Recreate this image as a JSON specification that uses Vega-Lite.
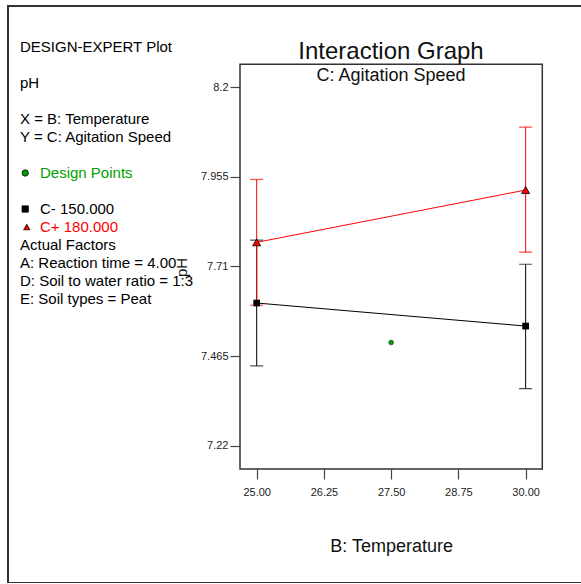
{
  "$schema": "https://vega.github.io/schema/vega-lite/v6.json",
  "width": 590,
  "height": 577,
  "autosize": "none",
  "padding": {"left": 8, "top": 6, "right": 0, "bottom": 0},
  "config": {
    "font": "Liberation Sans",
    "view": {"stroke": "#333333", "strokeWidth": 2},
    "axis": {"grid": false, "domain": false, "labelFont": "Liberation Sans", "titleFont": "Liberation Sans", "titleFontWeight": "normal", "labelColor": "#222222", "tickColor": "#444444", "titleColor": "#111111"}
  },
  "title": {
    "text": "Interaction Graph",
    "subtitle": "C: Agitation Speed",
    "fontSize": 24,
    "fontWeight": "normal",
    "font": "Liberation Sans",
    "color": "#111111",
    "subtitleFontSize": 18,
    "subtitleFont": "Liberation Sans",
    "subtitleColor": "#111111",
    "subtitlePadding": 3,
    "anchor": "middle",
    "frame": "group",
    "dx": 88,
    "offset": -78.5
  },
  "datasets": {
    "means": [
      {"temp": 25, "ph": 7.610, "lo": 7.438, "hi": 7.782, "speed": "C- 150.000"},
      {"temp": 30, "ph": 7.547, "lo": 7.376, "hi": 7.716, "speed": "C- 150.000"},
      {"temp": 25, "ph": 7.776, "lo": 7.604, "hi": 7.948, "speed": "C+ 180.000"},
      {"temp": 30, "ph": 7.919, "lo": 7.749, "hi": 8.091, "speed": "C+ 180.000"}
    ],
    "design": [
      {"temp": 27.5, "ph": 7.502, "speed": "Design Points"}
    ],
    "notes": [
      {"line": 0, "col": 0, "label": "DESIGN-EXPERT Plot", "group": "note"},
      {"line": 2, "col": 0, "label": "pH", "group": "note"},
      {"line": 4, "col": 0, "label": "X = B: Temperature", "group": "note"},
      {"line": 5, "col": 0, "label": "Y = C: Agitation Speed", "group": "note"},
      {"line": 7, "col": 1, "label": "Design Points", "group": "Design Points"},
      {"line": 9, "col": 1, "label": "C- 150.000", "group": "note"},
      {"line": 10, "col": 1, "label": "C+ 180.000", "group": "C+ 180.000"},
      {"line": 11, "col": 0, "label": "Actual Factors", "group": "note"},
      {"line": 12, "col": 0, "label": "A: Reaction time = 4.00", "group": "note"},
      {"line": 13, "col": 0, "label": "D: Soil to water ratio = 1:3", "group": "note"},
      {"line": 14, "col": 0, "label": "E: Soil types = Peat", "group": "note"}
    ],
    "keys": [
      {"line": 7, "col": 0.26, "group": "Design Points"},
      {"line": 9, "col": 0.26, "group": "C- 150.000"},
      {"line": 10, "col": 0.34, "group": "C+ 180.000"}
    ]
  },
  "layer": [
    {
      "data": {"name": "means"},
      "encoding": {
        "x": {
          "field": "temp", "type": "quantitative",
          "scale": {"domain": [24.69, 30.31], "range": [232, 534.3], "nice": false, "zero": false},
          "axis": {
            "orient": "bottom", "offset": -114,
            "values": [25, 26.25, 27.5, 28.75, 30], "format": ".2f",
            "tickSize": 10, "tickWidth": 1.2, "labelPadding": 7, "labelFontSize": 11,
            "title": "B: Temperature", "titleFontSize": 18, "titleBaseline": "alphabetic", "titleY": 82
          }
        },
        "y": {
          "field": "ph", "type": "quantitative",
          "scale": {"domain": [7.156, 8.263], "range": [463, 58.3], "nice": false, "zero": false},
          "axis": {
            "orient": "left", "offset": -232,
            "values": [7.22, 7.465, 7.71, 7.955, 8.2], "format": ".4~g",
            "tickSize": 10, "tickWidth": 1.2, "labelPadding": 2, "labelFontSize": 11,
            "title": "pH", "titleFontSize": 15, "titleAngle": -90, "titleAlign": "center", "titleBaseline": "middle",
            "titleX": -59, "titleY": 261
          }
        }
      },
      "layer": [
        {
          "data": {"values": [{"x0": 24.69, "x1": 30.31, "y0": 7.156, "y1": 8.263}]},
          "mark": {"type": "rect", "filled": false, "stroke": "#333333", "strokeWidth": 1.5},
          "encoding": {
            "x": {"field": "x0", "type": "quantitative"},
            "x2": {"field": "x1"},
            "y": {"field": "y0", "type": "quantitative"},
            "y2": {"field": "y1"}
          }
        },
        {
          "mark": {"type": "rule", "strokeWidth": 1},
          "encoding": {
            "y": {"field": "lo", "type": "quantitative"},
            "y2": {"field": "hi"},
            "color": {"field": "speed", "type": "nominal", "legend": null,
              "scale": {"domain": ["note", "C- 150.000", "C+ 180.000", "Design Points"], "range": ["#000000", "#000000", "#ff0000", "#00a000"]}}
          }
        },
        {
          "mark": {"type": "tick", "orient": "horizontal", "size": 13, "thickness": 1.2},
          "encoding": {
            "y": {"field": "lo", "type": "quantitative"},
            "color": {"field": "speed", "type": "nominal", "legend": null}
          }
        },
        {
          "mark": {"type": "tick", "orient": "horizontal", "size": 13, "thickness": 1.2},
          "encoding": {
            "y": {"field": "hi", "type": "quantitative"},
            "color": {"field": "speed", "type": "nominal", "legend": null}
          }
        },
        {
          "mark": {"type": "line", "strokeWidth": 1},
          "encoding": {
            "color": {"field": "speed", "type": "nominal", "legend": null}
          }
        },
        {
          "transform": [{"filter": "datum.speed == 'C- 150.000'"}],
          "mark": {"type": "point", "shape": "square", "filled": true, "fill": "#000000", "size": 45, "opacity": 1}
        },
        {
          "transform": [{"filter": "datum.speed == 'C+ 180.000'"}],
          "mark": {"type": "point", "shape": "triangle-up", "filled": true, "fill": "#ff0000", "stroke": "#000000", "strokeWidth": 0.8, "size": 65, "opacity": 1}
        },
        {
          "data": {"name": "design"},
          "mark": {"type": "point", "shape": "circle", "filled": true, "fill": "#00a000", "stroke": "#003000", "strokeWidth": 0.6, "size": 22, "opacity": 1}
        }
      ]
    },
    {
      "encoding": {
        "x": {"field": "col", "type": "quantitative", "axis": null,
          "scale": {"domain": [0, 1], "range": [12, 32], "nice": false, "zero": false}},
        "y": {"field": "line", "type": "quantitative", "axis": null,
          "scale": {"domain": [0, 14], "range": [41, 293], "nice": false, "zero": false}}
      },
      "layer": [
        {
          "data": {"name": "notes"},
          "mark": {"type": "text", "align": "left", "baseline": "middle", "fontSize": 15, "font": "Liberation Sans"},
          "encoding": {
            "text": {"field": "label"},
            "color": {"field": "group", "type": "nominal", "legend": null}
          }
        },
        {
          "data": {"name": "keys"},
          "mark": {"type": "point", "filled": true, "stroke": "#000000", "strokeWidth": 0.8, "size": 40, "opacity": 1},
          "encoding": {
            "shape": {"field": "group", "type": "nominal", "legend": null,
              "scale": {"domain": ["Design Points", "C- 150.000", "C+ 180.000"], "range": ["circle", "square", "triangle-up"]}},
            "color": {"field": "group", "type": "nominal", "legend": null}
          }
        }
      ]
    }
  ],
  "resolve": {"scale": {"x": "independent", "y": "independent"}}
}
